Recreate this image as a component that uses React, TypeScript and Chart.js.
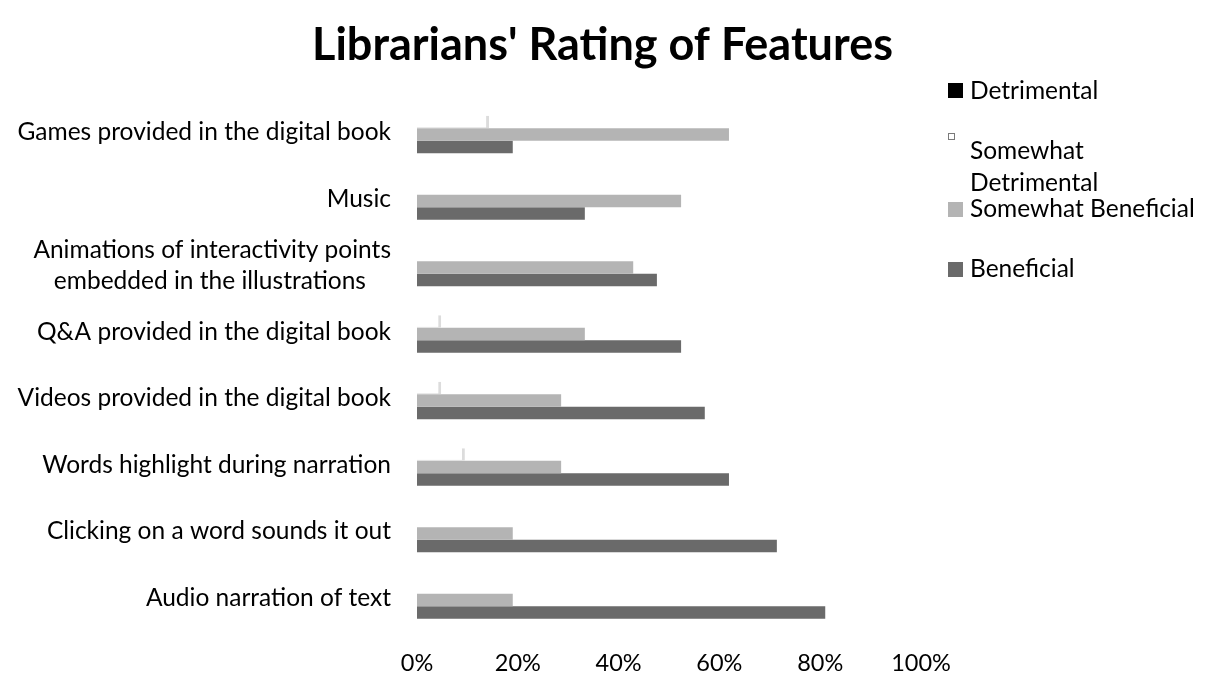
import React, { useEffect, useRef } from "react";
import { Chart, registerables } from "chart.js";

Chart.register(...registerables);

const TITLE = "Librarians' Rating of Features";

const categories: (string | string[])[] = [
  "Games provided in the digital book",
  "Music",
  ["Animations of interactivity points", "embedded in the illustrations    "],
  "Q&A provided in the digital book",
  "Videos provided in the digital book",
  "Words highlight during narration",
  "Clicking on a word sounds it out",
  "Audio narration of text",
];

const seriesNames = ["Detrimental", "Somewhat Detrimental", "Somewhat Beneficial", "Beneficial"];

const detrimental = [0, 0, 0, 0, 0, 0, 0, 0];
const somewhatDetrimental = [14.3, 0, 0, 4.8, 4.8, 9.5, 0, 0];
const somewhatBeneficial = [61.9, 52.4, 42.9, 33.3, 28.6, 28.6, 19.0, 19.0];
const beneficial = [19.0, 33.3, 47.6, 52.4, 57.1, 61.9, 71.4, 81.0];

const xTicks = [0, 20, 40, 60, 80, 100];

const FONT = "Lato, 'Open Sans', sans-serif";

export default function App() {
  const ref = useRef<HTMLCanvasElement | null>(null);

  useEffect(() => {
    document.body.style.margin = "0";
    if (!ref.current) return;
    const chart = new Chart(ref.current, {
      type: "bar",
      data: {
        labels: categories,
        datasets: [
          {
            label: seriesNames[0],
            data: detrimental,
            backgroundColor: "#000000",
          },
          {
            label: seriesNames[1],
            data: somewhatDetrimental,
            backgroundColor: "#ffffff",
            borderColor: "#dcdcdc",
            borderWidth: { top: 0, right: 3, bottom: 1, left: 0 },
            borderSkipped: false,
          },
          {
            label: seriesNames[2],
            data: somewhatBeneficial,
            backgroundColor: "#b4b4b4",
          },
          {
            label: seriesNames[3],
            data: beneficial,
            backgroundColor: "#6a6a6a",
          },
        ],
      },
      options: {
        indexAxis: "y",
        responsive: false,
        animation: false,
        layout: { padding: 0 },
        datasets: {
          bar: { categoryPercentage: 0.75, barPercentage: 1.0 },
        },
        plugins: {
          legend: { display: false },
          tooltip: { enabled: false },
          title: {
            display: true,
            text: TITLE,
            color: "#000",
            font: { family: FONT, size: 45, weight: "bold", lineHeight: 1.2 },
            padding: { top: 18, bottom: 23 },
          },
        },
        scales: {
          x: {
            type: "linear",
            min: 0,
            max: 100,
            grid: { display: false, drawTicks: false },
            border: { display: false },
            afterBuildTicks: (scale: any) => {
              scale.ticks = xTicks.map((v) => ({ value: v }));
            },
            afterFit: (scale: any) => {
              scale.height = 48;
            },
            ticks: {
              padding: 22,
              color: "#000",
              font: { family: FONT, size: 23.5 },
              callback: (v: any) => v + "%",
            },
          },
          y: {
            type: "category",
            grid: { display: false, drawTicks: false },
            border: { display: false },
            afterFit: (scale: any) => {
              scale.width = 417;
            },
            ticks: {
              padding: 26,
              labelOffset: 4,
              color: "#000",
              autoSkip: false,
              font: { family: FONT, size: 24.5, lineHeight: 1.27 },
            },
          },
          y2: {
            type: "category",
            position: "right",
            grid: { display: false, drawTicks: false },
            border: { display: false },
            ticks: { display: false },
            afterFit: (scale: any) => {
              scale.width = 284;
            },
          },
        },
      },
    });
    return () => chart.destroy();
  }, []);

  const boxes = [
    { x: 948, y: 83, w: 15, h: 15, bg: "#000000", border: "none" },
    { x: 948, y: 133, w: 7, h: 7, bg: "#ffffff", border: "1px solid #7a7a7a" },
    { x: 948, y: 202, w: 15, h: 15, bg: "#b4b4b4", border: "none" },
    { x: 948, y: 262, w: 15, h: 15, bg: "#6a6a6a", border: "none" },
  ];
  const texts = [
    { top: 74, lines: ["Detrimental"] },
    { top: 134, lines: ["Somewhat", "Detrimental"] },
    { top: 192, lines: [seriesNames[2]] },
    { top: 252, lines: [seriesNames[3]] },
  ];

  return (
    <div style={{ position: "relative", width: 1205, height: 675, background: "#fff" }}>
      <canvas ref={ref} width={1205} height={675} style={{ display: "block" }} />
      {boxes.map((b, i) => (
        <div
          key={"b" + i}
          style={{
            position: "absolute",
            left: b.x,
            top: b.y,
            width: b.w,
            height: b.h,
            background: b.bg,
            border: b.border,
            boxSizing: "border-box",
          }}
        />
      ))}
      {texts.map((t, i) => (
        <div
          key={"t" + i}
          style={{
            position: "absolute",
            left: 970,
            top: t.top,
            width: 235,
            fontFamily: FONT,
            fontSize: 24.5,
            lineHeight: "32px",
            color: "#000",
            whiteSpace: "nowrap",
          }}
        >
          {t.lines.map((l, j) => (
            <div key={j}>{l}</div>
          ))}
        </div>
      ))}
    </div>
  );
}
